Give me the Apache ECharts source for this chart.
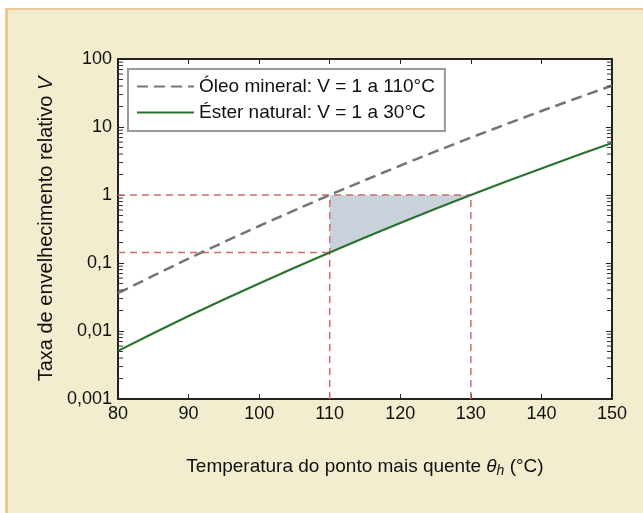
<!DOCTYPE html>
<html>
<head>
<meta charset="utf-8">
<script src="https://cdn.jsdelivr.net/npm/echarts@6/dist/echarts.min.js"></script>
<style>
    html, body { margin: 0; padding: 0; background: #ffffff; }
    #frame {
        position: absolute; left: 5px; top: 8px; width: 650px; height: 520px;
        border-left: 3px solid #ebc995; border-top: 2px solid #ebc995;
        background: #f2edcf;
    }
    #main { position: absolute; left: 0; top: 0; width: 643px; height: 513px; }
</style>
</head>
<body>
<div id="frame"></div>
<div id="main"></div>
<script>
// temperaturas (°C)
var temps = [80, 85, 90, 95, 100, 105, 110, 115, 120, 125, 130, 135, 140, 145, 150];
// taxa relativa
var oleoMineral = [0.036, 0.065, 0.116, 0.203, 0.35, 0.595, 1, 1.655, 2.71, 4.38, 6.98, 11.0, 17.2, 26.5, 40.6];
var esterNatural = [0.0051, 0.0093, 0.0166, 0.029, 0.050, 0.085, 0.143, 0.237, 0.388, 0.628, 1, 1.58, 2.46, 3.80, 5.82];
// linhas de referência
var refTemps = [110, 130];
var refNivel = [1, 0.143];
var xTicks = [80, 90, 100, 110, 120, 130, 140, 150];
var yTicks = [0.001, 0.01, 0.1, 1, 10, 100];
var minorTicks = [];
yTicks.slice(0, -1).forEach(function (d) {
    for (var k = 2; k <= 9; k++) minorTicks.push(d * k);
});

function pares(xs, ys) {
    return xs.map(function (x, i) { return [x, ys[i]]; });
}

var chart = echarts.init(document.getElementById('main'));

var redLine = { color: '#cc6e6a', width: 1.5, type: [7, 5] };
var refSeries = [
    [[xTicks[0], refNivel[0]], [refTemps[1], refNivel[0]]],
    [[xTicks[0], refNivel[1]], [refTemps[0], refNivel[1]]],
    [[refTemps[0], yTicks[0]], [refTemps[0], refNivel[0]]],
    [[refTemps[1], yTicks[0]], [refTemps[1], refNivel[0]]]
].map(function (d) {
    return { type: 'line', data: d, symbol: 'none', lineStyle: redLine, z: 3, silent: true, animation: false };
});

var option = {
    animation: false,
    backgroundColor: 'transparent',
    textStyle: { fontFamily: 'Liberation Sans, Arial, sans-serif' },
    grid: { left: 118, right: 31, top: 59, bottom: 114, show: true, backgroundColor: '#ffffff', borderWidth: 0 },
    legend: {
        orient: 'vertical',
        left: 128, top: 69,
        padding: [8, 10, 9, 8],
        itemGap: 7,
        itemWidth: 57, itemHeight: 14,
        backgroundColor: '#ffffff',
        borderColor: '#9a9a9a', borderWidth: 2,
        itemStyle: { opacity: 0 },
        textStyle: { fontSize: 19, color: '#111' },
        data: ['Óleo mineral: V = 1 a 110°C', 'Éster natural: V = 1 a 30°C']
    },
    xAxis: [{
        type: 'value', min: 80, max: 150, interval: 10,
        name: 'Temperatura do ponto mais quente {it|θ}{sub|h} (°C)',
        nameLocation: 'middle', nameGap: 56,
        nameTextStyle: {
            fontSize: 19, color: '#111',
            rich: {
                it: { fontStyle: 'italic', fontSize: 19, color: '#111' },
                sub: { fontStyle: 'italic', fontSize: 14, color: '#111', padding: [9, 0, 0, 0] }
            }
        },
        axisLine: { lineStyle: { color: '#222', width: 2 } },
        axisTick: { inside: true, length: 5, lineStyle: { color: '#222' } },
        axisLabel: { fontSize: 18, color: '#111', margin: 6 },
        splitLine: { show: false }
    }, {
        type: 'value', position: 'top', min: 80, max: 150, interval: 10,
        axisLine: { lineStyle: { color: '#222', width: 2 } },
        axisTick: { inside: true, length: 5, lineStyle: { color: '#222' } },
        axisLabel: { show: false },
        splitLine: { show: false }
    }],
    yAxis: [{
        type: 'log', logBase: 10, min: 0.001, max: 100,
        name: 'Taxa de envelhecimento relativo {it|V}',
        nameLocation: 'middle', nameGap: 57, nameRotate: 90,
        nameTextStyle: {
            fontSize: 20, color: '#111',
            rich: { it: { fontStyle: 'italic', fontSize: 20, color: '#111' } }
        },
        axisLine: { lineStyle: { color: '#222', width: 2 } },
        axisTick: { inside: true, length: 6, lineStyle: { color: '#222' } },
        axisLabel: {
            fontSize: 18, color: '#111', margin: 6,
            formatter: function (v) { return String(+v.toPrecision(3)).replace('.', ','); }
        },
        splitLine: { show: false }
    }, {
        type: 'log', logBase: 10, min: 0.001, max: 100, position: 'right',
        axisLine: { lineStyle: { color: '#222', width: 2 } },
        axisTick: { inside: true, length: 6, lineStyle: { color: '#222' } },
        axisLabel: { show: false },
        splitLine: { show: false }
    }],
    series: [{
        // área sombreada entre a curva do éster e V = 1
        type: 'custom', silent: true, z: 1,
        data: [[refTemps[0], refNivel[0]]],
        renderItem: function (params, api) {
            var pts = [];
            temps.forEach(function (t, i) {
                if (t >= refTemps[0] && t <= refTemps[1]) pts.push(api.coord([t, esterNatural[i]]));
            });
            pts.push(api.coord([refTemps[1], refNivel[0]]));
            pts.push(api.coord([refTemps[0], refNivel[0]]));
            return { type: 'polygon', shape: { points: pts }, style: { fill: '#c9d2da' } };
        }
    }, {
        // marcas menores nos eixos logarítmicos
        type: 'custom', silent: true, z: 6,
        data: [[refTemps[0], refNivel[0]]],
        renderItem: function (params, api) {
            var kids = [];
            minorTicks.forEach(function (v) {
                var l = api.coord([xTicks[0], v]), r = api.coord([xTicks[xTicks.length - 1], v]);
                kids.push({ type: 'line', shape: { x1: l[0], y1: l[1], x2: l[0] + 5, y2: l[1] }, style: { stroke: '#333', lineWidth: 1 } });
                kids.push({ type: 'line', shape: { x1: r[0], y1: r[1], x2: r[0] - 5, y2: r[1] }, style: { stroke: '#333', lineWidth: 1 } });
            });
            return { type: 'group', children: kids };
        }
    }].concat(refSeries).concat([{
        name: 'Óleo mineral: V = 1 a 110°C',
        type: 'line', data: pares(temps, oleoMineral), symbol: 'none', z: 4,
        itemStyle: { color: '#747474' },
        lineStyle: { color: '#747474', width: 2.5, type: [11, 6] }
    }, {
        name: 'Éster natural: V = 1 a 30°C',
        type: 'line', data: pares(temps, esterNatural), symbol: 'none', z: 4,
        itemStyle: { color: '#3d8b3d' },
        lineStyle: { color: '#2b7230', width: 2.2 }
    }])
};

chart.setOption(option);
</script>
</body>
</html>
